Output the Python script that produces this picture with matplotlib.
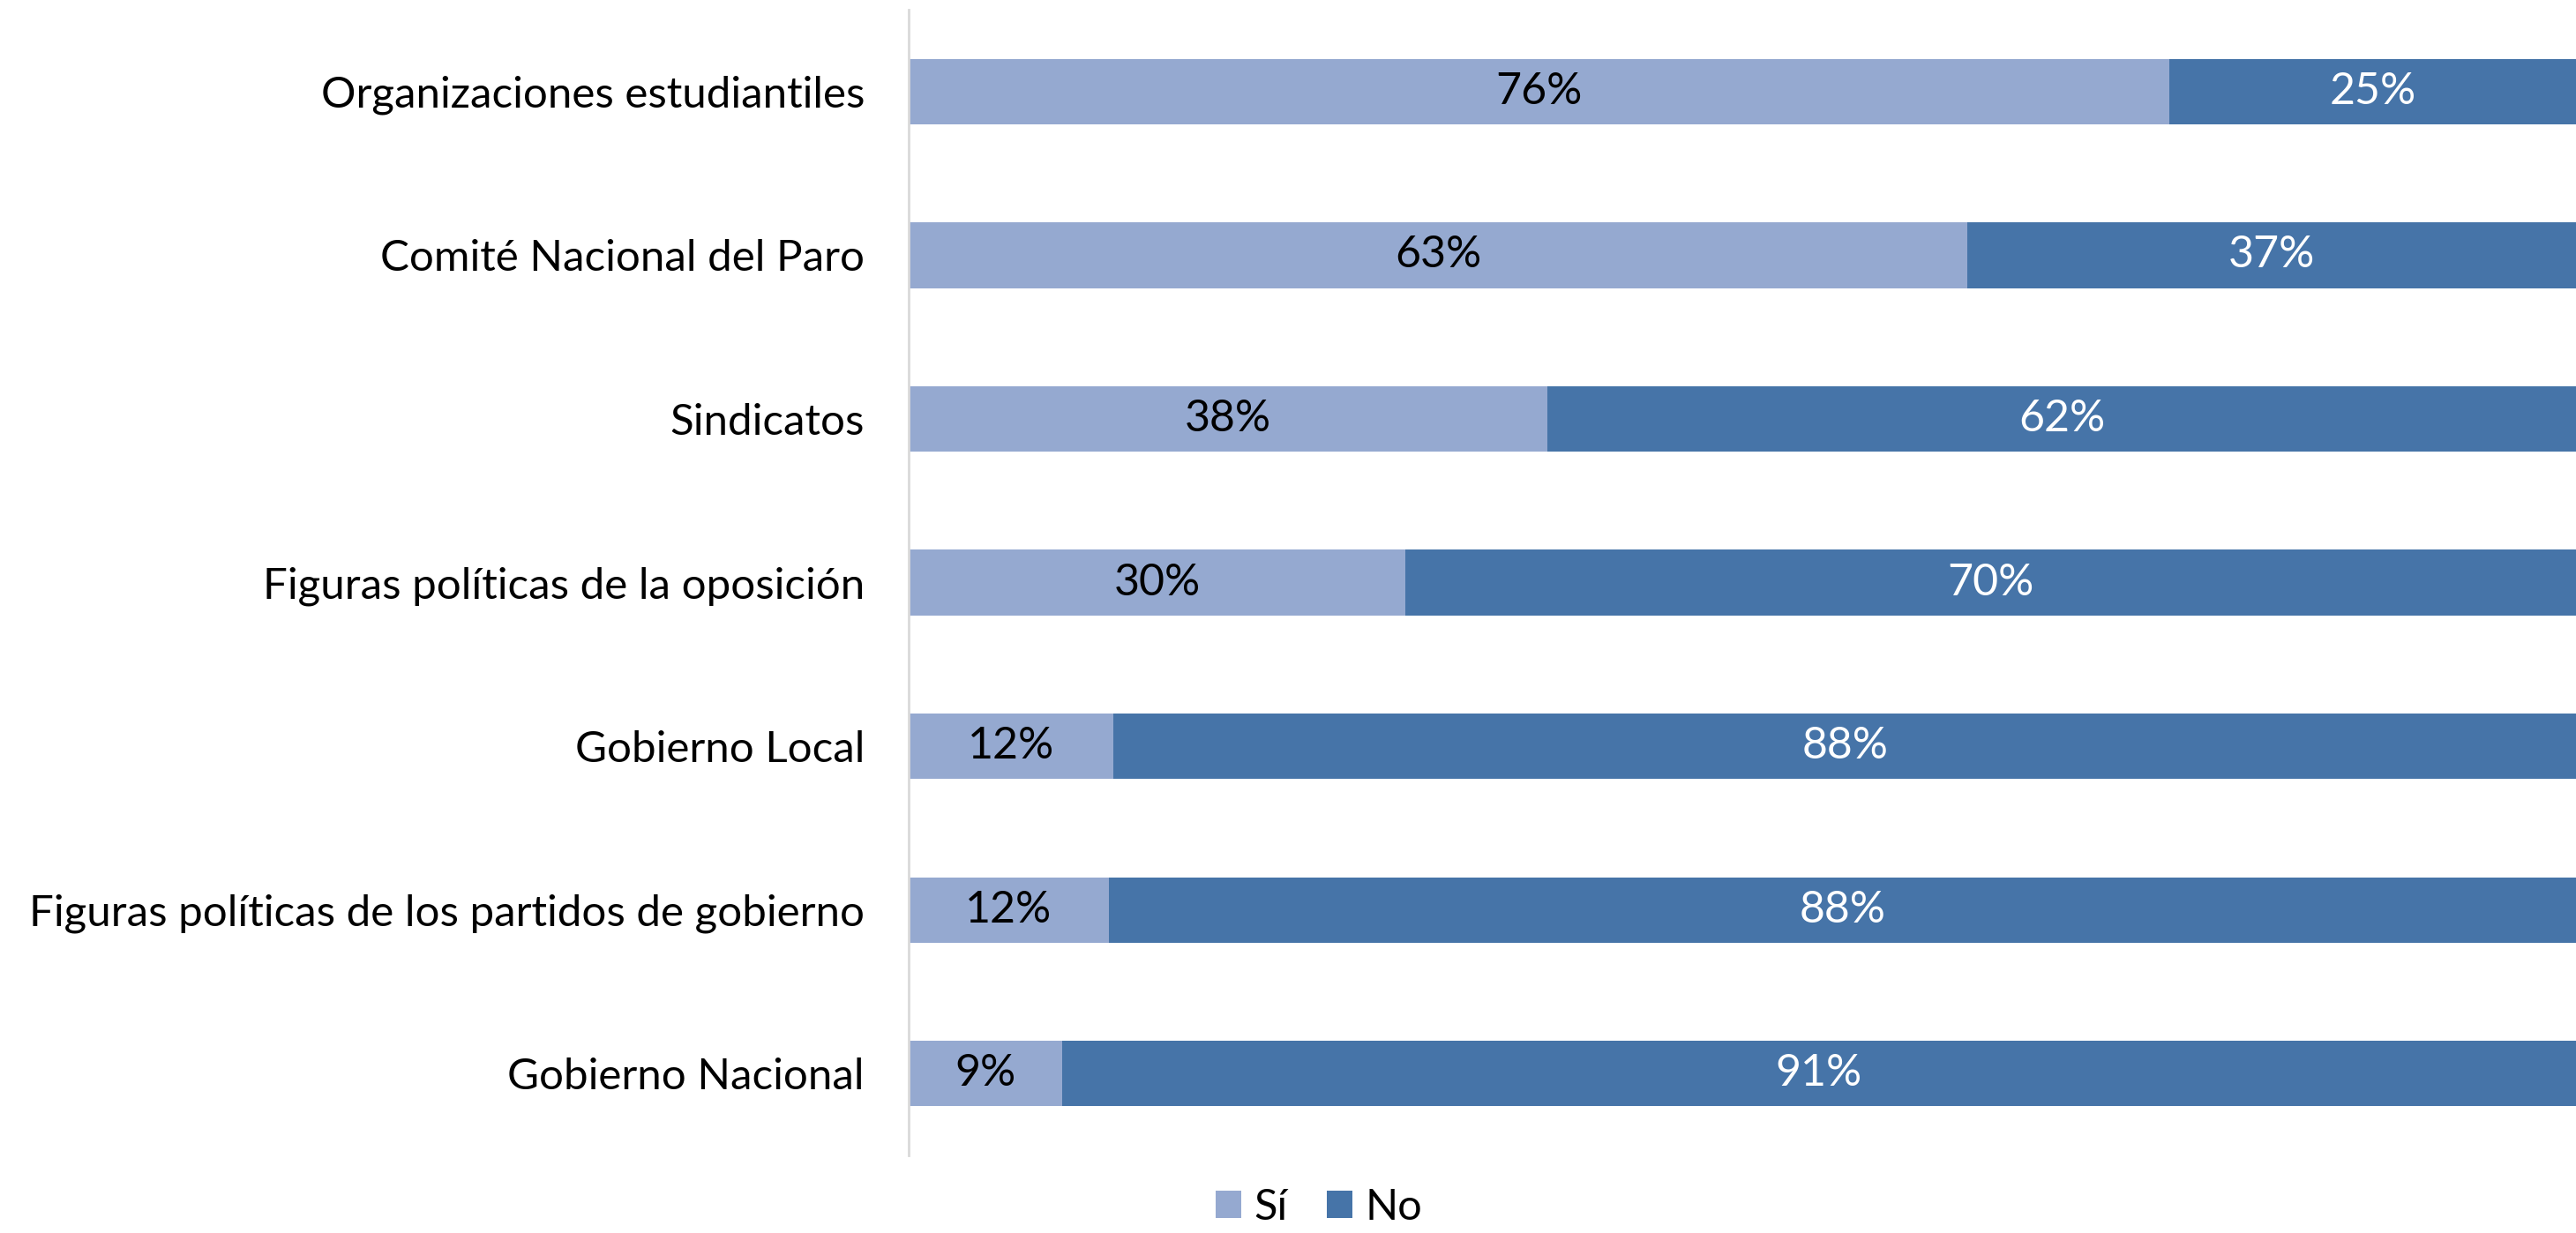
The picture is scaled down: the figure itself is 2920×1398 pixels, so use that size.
import matplotlib
matplotlib.use("Agg")
import matplotlib.pyplot as plt
import numpy as np

plt.rcParams['font.family'] = ['Lato', 'DejaVu Sans']

categorias = ["Organizaciones estudiantiles", "Comité Nacional del Paro", "Sindicatos",
              "Figuras políticas de la oposición", "Gobierno Local",
              "Figuras políticas de los partidos de gobierno", "Gobierno Nacional"]
si = [75.6, 63.5, 38.3, 29.8, 12.3, 12.0, 9.2]
no = [24.4, 36.5, 61.7, 70.2, 87.7, 88.0, 90.8]
si_labels = ["76%", "63%", "38%", "30%", "12%", "12%", "9%"]
no_labels = ["25%", "37%", "62%", "70%", "88%", "88%", "91%"]

color_si = "#95A9D0"
color_no = "#4674A8"

fig = plt.figure(figsize=(29.2, 13.98), dpi=100)
ax = fig.add_axes([0.3527, 0.063, 0.6473, 0.929])

y = np.arange(len(categorias))
b1 = ax.barh(y, si, height=0.4, color=color_si, label="Sí")
b2 = ax.barh(y, no, left=si, height=0.4, color=color_no, label="No")

for i in range(len(categorias)):
    ax.text(si[i] / 2, y[i], si_labels[i], ha="center", va="center",
            fontsize=36, color="black")
    ax.text(si[i] + no[i] / 2, y[i], no_labels[i], ha="center", va="center",
            fontsize=36, color="white")

ax.set_xlim(0, 100)
ax.set_ylim(len(categorias) - 0.5, -0.5)
ax.set_yticks(y)
ax.set_yticklabels(categorias, fontsize=35.5)
ax.tick_params(axis="y", length=0, pad=36)
ax.set_xticks([])
for s in ["top", "right", "bottom"]:
    ax.spines[s].set_visible(False)
ax.spines["left"].set_color("#D9D9D9")
ax.spines["left"].set_linewidth(2)

fig.legend(handles=[b1, b2], loc="lower center", bbox_to_anchor=(0.512, -0.026),
           ncol=2, frameon=False, fontsize=35, handlelength=0.6, handleheight=0.6,
           handletextpad=0.3, columnspacing=0.9)

fig.savefig("out.png", dpi=100)
